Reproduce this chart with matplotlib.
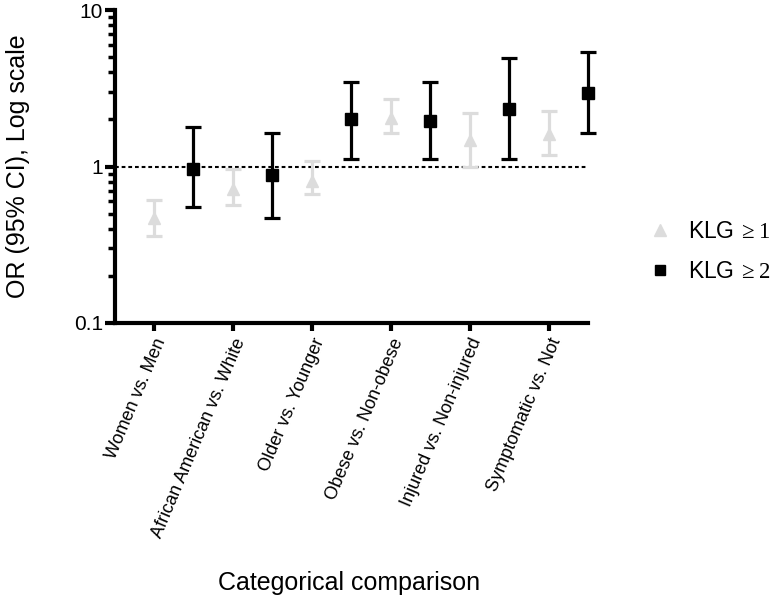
import matplotlib
matplotlib.use("Agg")
import matplotlib.pyplot as plt
from matplotlib.ticker import LogLocator, FixedLocator, NullFormatter
from matplotlib.lines import Line2D

plt.rcParams['font.family'] = ['Liberation Sans', 'DejaVu Sans']
plt.rcParams['mathtext.fontset'] = 'custom'
plt.rcParams['mathtext.rm'] = 'Liberation Serif'

categories = ["Women vs. Men", "African American vs. White", "Older vs. Younger",
              "Obese vs. Non-obese", "Injured vs. Non-injured", "Symptomatic vs. Not"]

klg1_or = [0.47, 0.72, 0.81, 2.03, 1.47, 1.62]
klg1_lo = [0.36, 0.57, 0.67, 1.65, 1.00, 1.18]
klg1_hi = [0.61, 0.97, 1.08, 2.72, 2.21, 2.28]

klg2_or = [0.97, 0.88, 2.00, 1.97, 2.35, 2.97]
klg2_lo = [0.55, 0.47, 1.11, 1.11, 1.11, 1.65]
klg2_hi = [1.78, 1.65, 3.49, 3.49, 4.97, 5.43]

fig = plt.figure(figsize=(7.79, 5.97), dpi=100)
ax = fig.add_axes([0.148, 0.459, 0.607, 0.524])

x1 = list(range(len(categories)))
x2 = [i + 0.5 for i in x1]

gray = '#dcdcdc'
ax.errorbar(x1, klg1_or,
            yerr=[[m - l for m, l in zip(klg1_or, klg1_lo)], [h - m for m, h in zip(klg1_or, klg1_hi)]],
            fmt='^', color=gray, ecolor=gray, elinewidth=2.3, capsize=5.5, capthick=2.3,
            markersize=8, zorder=3, clip_on=False)
ax.errorbar(x2, klg2_or,
            yerr=[[m - l for m, l in zip(klg2_or, klg2_lo)], [h - m for m, h in zip(klg2_or, klg2_hi)]],
            fmt='s', color='black', ecolor='black', elinewidth=2.3, capsize=6, capthick=2.3,
            markersize=8.5, zorder=4, clip_on=False)

ax.axhline(1, color='black', linestyle=(0, (1.8, 1.4)), linewidth=1.5, zorder=2)

ax.set_yscale('log')
ax.set_ylim(0.1, 10)
ax.set_xlim(-0.49, 5.5)
ax.yaxis.set_major_locator(FixedLocator([0.1, 1, 10]))
ax.set_yticklabels(['0.1', '1', '10'], fontsize=15)
ax.yaxis.set_minor_locator(LogLocator(base=10, subs=[2, 3, 4, 5, 6, 7, 8, 9]))
ax.yaxis.set_minor_formatter(NullFormatter())

ax.set_xticks(x1)
ax.set_xticklabels(categories, rotation=67, ha='right', rotation_mode='anchor', fontsize=13)

for s in ['top', 'right']:
    ax.spines[s].set_visible(False)
for s in ['left', 'bottom']:
    ax.spines[s].set_linewidth(3)

ax.tick_params(axis='y', which='major', length=7, width=3, pad=2)
ax.tick_params(axis='y', which='minor', length=5, width=2.5)
ax.tick_params(axis='x', which='major', length=6, width=3, pad=3)

fig.text(18 / 779, 1 - 166.5 / 597, 'OR (95% CI), Log scale', fontsize=18,
         rotation=90, ha='center', va='center')
fig.text(349 / 779, 1 - 583 / 597, 'Categorical comparison', fontsize=18,
         ha='center', va='center')

handles = [Line2D([], [], marker='^', color=gray, linestyle='none', markersize=8),
           Line2D([], [], marker='s', color='black', linestyle='none', markersize=7.5)]
labels = [r'KLG$\mathrm{\,\geq 1}$', r'KLG$\mathrm{\,\geq 2}$']
fig.legend(handles, labels, loc='center left', bbox_to_anchor=(0.818, 1 - 251.5 / 597),
           frameon=False, fontsize=16.5, handletextpad=0.6, labelspacing=0.7,
           handlelength=1.2, borderpad=0.4, borderaxespad=0)

fig.savefig('out.png', dpi=100)
